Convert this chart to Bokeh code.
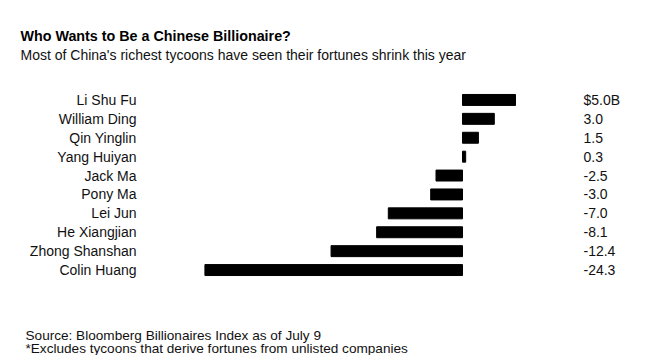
from bokeh.plotting import figure
from bokeh.models import Range1d, Label, ColumnDataSource
from bokeh.core.properties import value
from bokeh.embed import file_html
from bokeh.resources import INLINE

names = ["Li Shu Fu", "William Ding", "Qin Yinglin", "Yang Huiyan", "Jack Ma",
         "Pony Ma", "Lei Jun", "He Xiangjian", "Zhong Shanshan", "Colin Huang"]
values = [5.0, 3.0, 1.5, 0.3, -2.5, -3.0, -7.0, -8.1, -12.4, -24.3]
value_labels = ["$5.0B", "3.0", "1.5", "0.3", "-2.5", "-3.0", "-7.0", "-8.1", "-12.4", "-24.3"]

title = "Who Wants to Be a Chinese Billionaire?"
subtitle = "Most of China's richest tycoons have seen their fortunes shrink this year"
source = "Source: Bloomberg Billionaires Index as of July 9"
note = "*Excludes tycoons that derive fortunes from unlisted companies"

# layout (canvas pixels) -------------------------------------------------
W, H = 647, 355
ZERO_PX, PX_PER_UNIT = 462.0, 10.6       # x position of 0 and scale
ROW0_PX, ROW_PX = 99.45, 18.9            # centre of first row and row pitch
NAME_RIGHT_PX, VALUE_LEFT_PX = 136, 583  # label columns

x_range = Range1d(-ZERO_PX / PX_PER_UNIT, (W - ZERO_PX) / PX_PER_UNIT)
y_range = Range1d((H - ROW0_PX) / ROW_PX, -ROW0_PX / ROW_PX)  # row 0 at top
name_x = (NAME_RIGHT_PX - ZERO_PX) / PX_PER_UNIT
value_x = (VALUE_LEFT_PX - ZERO_PX) / PX_PER_UNIT

src = ColumnDataSource(dict(row=list(range(len(names))), name=names,
                            value=values, label=value_labels))

FONT = value("Liberation Sans")

p = figure(width=W, height=H, output_backend="svg", toolbar_location=None,
           x_range=x_range, y_range=y_range, min_border=0,
           background_fill_color="white", border_fill_color="white")
p.outline_line_color = None
p.grid.visible = False
p.axis.visible = False

p.hbar(y="row", left=0, right="value", height=0.58, color="black", source=src)
p.text(x=name_x, y="row", text="name", source=src, text_align="right",
       text_baseline="middle", text_font=FONT, text_font_size=value("14px"),
       text_color="#111111")
p.text(x=value_x, y="row", text="label", source=src, text_align="left",
       text_baseline="middle", text_font=FONT, text_font_size=value("14px"),
       text_color="#111111")


def add_text(txt, px, baseline_from_top, size, style="normal", color="#111111"):
    p.add_layout(Label(x=px, y=H - baseline_from_top, x_units="screen", y_units="screen",
                       text=txt, text_font="Liberation Sans", text_font_style=style,
                       text_font_size=size, text_color=color, text_baseline="alphabetic"))


add_text(title, 20, 35, "14.3px", "bold", "black")
add_text(subtitle, 20, 54.5, "14px")
add_text(source, 25, 335, "13.6px")
add_text(note, 25, 347.5, "13.6px")

open("out.html", "w").write(file_html(p, INLINE))
